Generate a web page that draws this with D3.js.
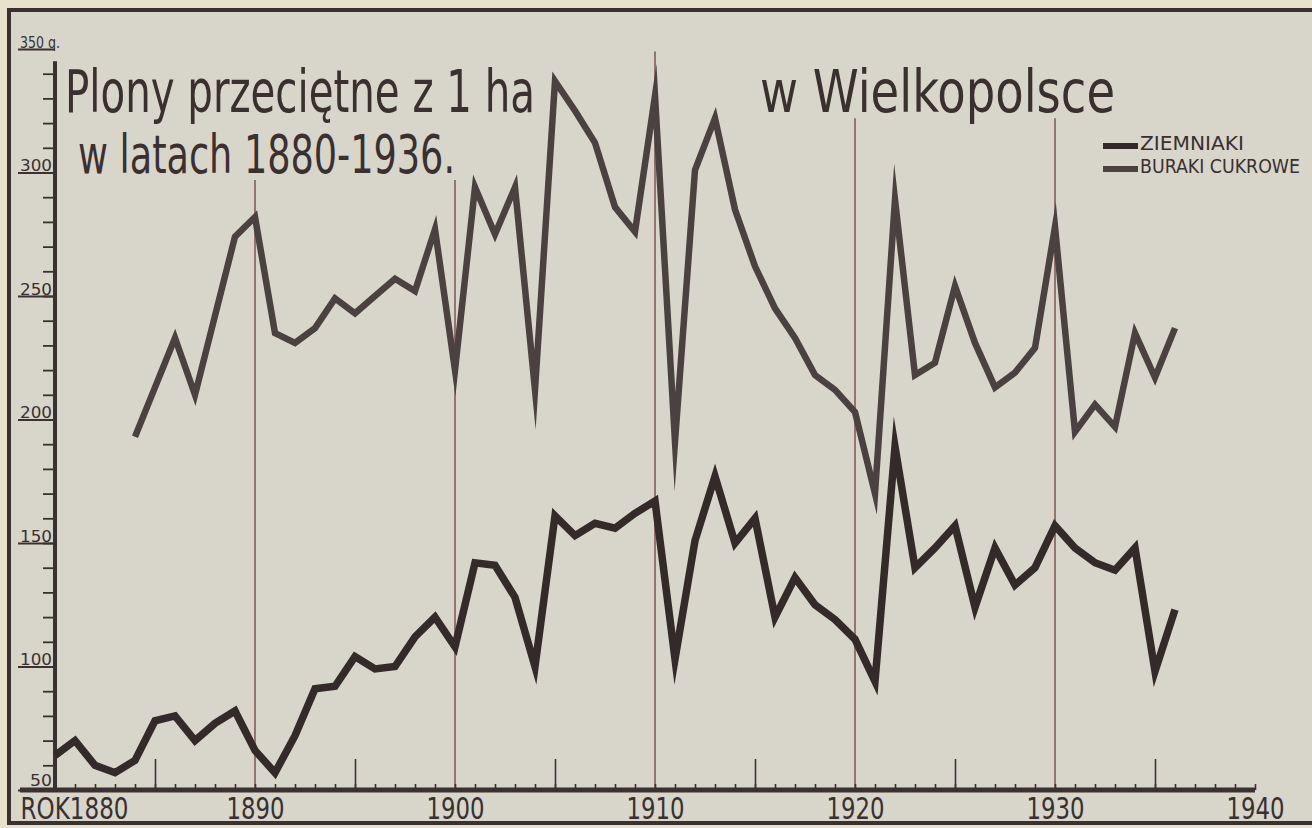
<!doctype html>
<html>
  <head>
    <meta charset="utf-8">
    <script src="https://cdn.jsdelivr.net/npm/d3@7/dist/d3.min.js"></script>

    <style>
      body {
        margin: 0;
        background-color: #e8e1ce;
      }

      .chart {
        display: block;
      }

      .chart text {
        font-family: "Liberation Sans Narrow", "DejaVu Sans Condensed", sans-serif;
        fill: #3a3030;
      }

      .grid line {
        stroke: #74403c;
        stroke-width: 1.3;
      }
    </style>
  </head>
  <body>

    <svg class="chart"></svg>

    <script>

      // yields in quintals per hectare
      const years = [1880, 1881, 1882, 1883, 1884, 1885, 1886, 1887, 1888, 1889,
                     1890, 1891, 1892, 1893, 1894, 1895, 1896, 1897, 1898, 1899,
                     1900, 1901, 1902, 1903, 1904, 1905, 1906, 1907, 1908, 1909,
                     1910, 1911, 1912, 1913, 1914, 1915, 1916, 1917, 1918, 1919,
                     1920, 1921, 1922, 1923, 1924, 1925, 1926, 1927, 1928, 1929,
                     1930, 1931, 1932, 1933, 1934, 1935, 1936]

      const ziemniaki = [64, 70, 60, 57, 62, 78, 80, 70, 77, 82,
                         66, 57, 72, 91, 92, 104, 99, 100, 112, 120,
                         108, 142, 141, 128, 100, 161, 153, 158, 156, 162,
                         167, 103, 151, 177, 150, 160, 120, 136, 125, 119,
                         111, 94, 189, 140, 148, 157, 124, 148, 133, 140,
                         157, 148, 142, 139, 148, 98, 123]

      // no sugar beet figures before 1884
      const buraki = [null, null, null, null, 193, 213, 233, 210, 242, 274,
                      282, 235, 231, 237, 249, 243, 250, 257, 252, 277,
                      220, 294, 275, 294, 212, 337, 325, 312, 286, 276,
                      331, 191, 301, 322, 285, 262, 245, 233, 218, 212,
                      203, 170, 289, 218, 223, 254, 231, 213, 219, 229,
                      278, 195, 206, 197, 235, 217, 237]

      const decadeTicks = [1880, 1890, 1900, 1910, 1920, 1930, 1940]
      const fiveYearTicks = [1885, 1895, 1905, 1915, 1925, 1935]
      const yLabelTicks = [50, 100, 150, 200, 250, 300, 350]

      const width = 1312,
            height = 828

      const xScale = d3.scaleLinear()
                         .domain([1880, 1940])
                         .range([55, 1255])

      const yScale = d3.scaleLinear()
                         .domain([50, 350])
                         .range([790, 49])

      let svg = d3.select(".chart")
                    .attr("width", width)
                    .attr("height", height)

      // paper panel with its dark frame
      svg.append("rect")
          .attr("x", 9)
          .attr("y", 10)
          .attr("width", 1330)
          .attr("height", 813)
          .attr("fill", "#d8d5ca")
          .attr("stroke", "#3b3131")
          .attr("stroke-width", 4)

      // decade lines, each stops where the drawing left room for the title
      const gridTop = { 1890: 297, 1900: 297, 1910: 349, 1920: 322, 1930: 322 }

      svg.append("g")
          .attr("class", "grid")
        .selectAll("line")
        .data(decadeTicks.filter((d) => gridTop[d]))
        .enter().append("line")
          .attr("x1", (d) => xScale(d))
          .attr("x2", (d) => xScale(d))
          .attr("y1", yScale(50))
          .attr("y2", (d) => yScale(gridTop[d]))

      // x axis: yearly ticks, taller five-year ticks, decade labels
      const xYearAxis = d3.axisBottom(xScale)
                          .tickValues(d3.range(1880, 1941))
                          .tickSize(-6)
                          .tickFormat("")

      const xFiveAxis = d3.axisBottom(xScale)
                          .tickValues(fiveYearTicks)
                          .tickSize(-31)
                          .tickFormat("")

      const xLabelAxis = d3.axisBottom(xScale)
                           .tickValues(decadeTicks)
                           .tickSize(0)
                           .tickFormat((d) => d === 1880 ? "ROK1880" : d)

      let xTicks = svg.append("g")
                        .attr("transform", "translate(0," + yScale(50) + ")")

      xTicks.append("g").call(xYearAxis)
      xTicks.append("g").call(xFiveAxis)

      xTicks.selectAll(".domain").remove()
      xTicks.selectAll(".tick line")
          .attr("stroke", "#3b3131")
          .attr("stroke-width", 1.6)

      let xLabels = svg.append("g")
                         .attr("id", "x-axis")
                         .attr("transform", "translate(0," + yScale(50) + ")")
                         .call(xLabelAxis)

      xLabels.select(".domain").remove()
      xLabels.selectAll("text")
          .attr("y", 0)
          .attr("dy", 29)
          .attr("font-size", 31)
          .attr("textLength", (d) => d === 1880 ? 108 : 58)
          .attr("lengthAdjust", "spacingAndGlyphs")
      xLabels.selectAll("text")
          .filter((d) => d === 1880)
          .attr("text-anchor", "start")
          .attr("x", -35)

      // y axis: minor ticks every 10, long underline ticks under labels
      const yMinorAxis = d3.axisLeft(yScale)
                           .tickValues(d3.range(60, 350, 10))
                           .tickSize(12)
                           .tickFormat("")

      const yLabelAxis = d3.axisLeft(yScale)
                           .tickValues(yLabelTicks)
                           .tickSize(37)
                           .tickFormat((d) => d === 350 ? "350 q." : d)

      let yAxisG = svg.append("g")
                        .attr("id", "y-axis")
                        .attr("transform", "translate(" + xScale(1880) + ",0)")

      yAxisG.append("g").call(yMinorAxis)
      yAxisG.append("g").call(yLabelAxis)
      yAxisG.selectAll(".domain").remove()
      yAxisG.selectAll(".tick line")
          .attr("stroke", "#3b3131")
          .attr("stroke-width", 1.8)

      yAxisG.selectAll("text")
          .attr("x", -3)
          .attr("dy", (d) => d === 50 ? -5 : -2)
          .attr("font-size", 16)
          .attr("text-anchor", "end")
          .attr("textLength", (d) => d === 350 ? 40 : (d === 50 ? 22 : 32))
          .attr("lengthAdjust", "spacingAndGlyphs")
      yAxisG.selectAll("text")
          .filter((d) => d === 350)
          .attr("text-anchor", "start")
          .attr("x", -35)

      // axis lines on top of the ticks
      svg.append("line")
          .attr("x1", xScale(1880))
          .attr("x2", xScale(1880))
          .attr("y1", yScale(345))
          .attr("y2", yScale(50))
          .attr("stroke", "#3b3131")
          .attr("stroke-width", 4)

      svg.append("line")
          .attr("x1", 20)
          .attr("x2", xScale(1940))
          .attr("y1", yScale(50))
          .attr("y2", yScale(50))
          .attr("stroke", "#3b3131")
          .attr("stroke-width", 5)

      // the two series
      const potatoData = years.map((yr, i) => ({ year: yr, value: ziemniaki[i] }))
      const beetData = years.map((yr, i) => ({ year: yr, value: buraki[i] }))

      const line = d3.line()
                     .defined((d) => d.value != null)
                     .x((d) => xScale(d.year))
                     .y((d) => yScale(d.value))

      svg.append("path")
          .datum(beetData)
          .attr("class", "line buraki")
          .attr("d", line)
          .attr("fill", "none")
          .attr("stroke", "#4a4140")
          .attr("stroke-width", 6.5)
          .attr("stroke-linejoin", "miter")
          .attr("stroke-miterlimit", 60)

      svg.append("path")
          .datum(potatoData)
          .attr("class", "line ziemniaki")
          .attr("d", line)
          .attr("fill", "none")
          .attr("stroke", "#342a2a")
          .attr("stroke-width", 7.5)
          .attr("stroke-linejoin", "miter")
          .attr("stroke-miterlimit", 60)

      // title
      let title = svg.append("g")
                       .attr("id", "title")

      title.append("text")
          .attr("x", 65)
          .attr("y", 112)
          .attr("font-size", 58)
          .attr("textLength", 470)
          .attr("lengthAdjust", "spacingAndGlyphs")
          .text("Plony przeciętne z 1 ha")

      title.append("text")
          .attr("x", 760)
          .attr("y", 112)
          .attr("font-size", 58)
          .attr("textLength", 355)
          .attr("lengthAdjust", "spacingAndGlyphs")
          .text("w Wielkopolsce")

      title.append("text")
          .attr("x", 78)
          .attr("y", 173)
          .attr("font-size", 54)
          .attr("textLength", 377)
          .attr("lengthAdjust", "spacingAndGlyphs")
          .text("w latach 1880-1936.")

      // legend
      const legendItems = [
        { name: "ZIEMNIAKI", color: "#342a2a", len: 104 },
        { name: "BURAKI CUKROWE", color: "#4a4140", len: 160 }
      ]

      let legend = svg.append("g")
                        .attr("id", "legend")
                        .attr("transform", "translate(1103,143)")

      let item = legend.selectAll(".item")
                   .data(legendItems)
                   .enter().append("g")
                     .attr("class", "item")
                     .attr("transform", (d, i) => "translate(0," + i * 23 + ")")

      item.append("rect")
          .attr("width", 35)
          .attr("height", 6)
          .attr("fill", (d) => d.color)

      item.append("text")
          .attr("x", 37)
          .attr("y", 7)
          .attr("font-size", 19)
          .attr("textLength", (d) => d.len)
          .attr("lengthAdjust", "spacingAndGlyphs")
          .text((d) => d.name)

    </script>
  </body>
</html>
